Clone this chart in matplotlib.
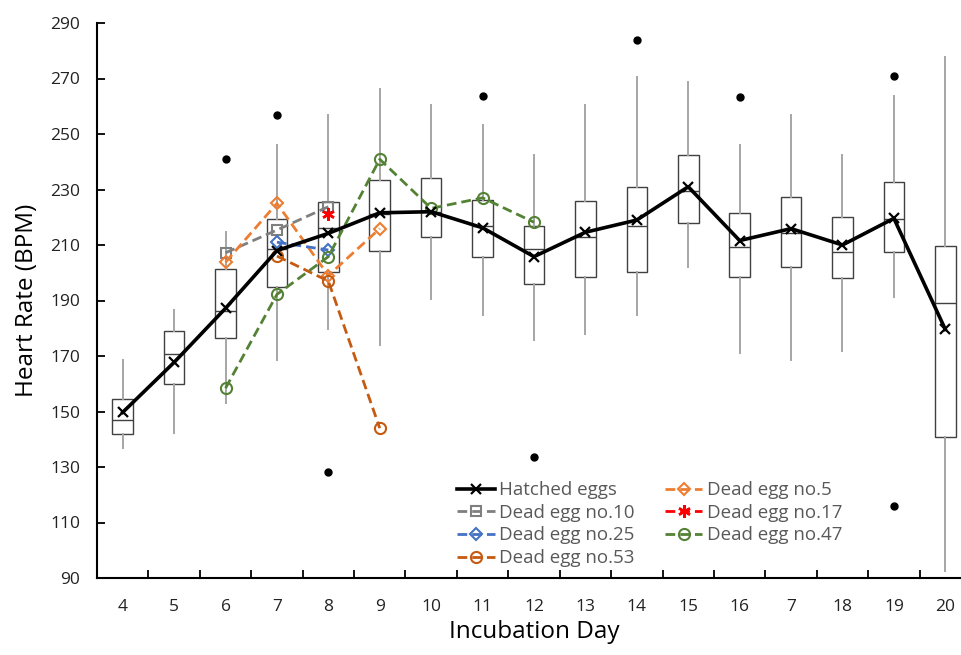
"""Heart rate boxplots by incubation day with dead-egg traces"""
import matplotlib
matplotlib.use('Agg')
import matplotlib.pyplot as plt

plt.rcParams['font.family'] = ['Open Sans', 'DejaVu Sans']

# Incubation days (the original labels day 17 as "7")
day_labels = ['4', '5', '6', '7', '8', '9', '10', '11', '12', '13',
              '14', '15', '16', '7', '18', '19', '20']

# Hatched eggs box statistics (BPM)
whis_lo = [136.7, 142.1, 153.0, 168.6, 179.6, 174.0, 190.4, 184.8, 175.8,
           177.8, 184.8, 202.2, 171.0, 168.6, 171.9, 191.4, 92.6]
q1 = [142.0, 159.9, 176.4, 194.9, 200.4, 207.8, 212.8, 205.7, 195.8,
      198.6, 200.4, 218.0, 198.6, 202.0, 198.2, 207.5, 140.7]
median = [146.9, 170.6, 186.2, 208.7, 216.0, 221.0, 222.0, 216.8, 208.7,
          213.0, 216.8, 229.6, 209.4, 214.2, 207.6, 219.4, 189.2]
q3 = [154.4, 179.0, 201.2, 219.4, 225.5, 233.3, 234.0, 226.2, 216.8,
      225.9, 231.0, 242.3, 221.4, 227.3, 220.2, 232.6, 209.7]
whis_hi = [168.6, 186.6, 214.6, 246.0, 256.8, 266.1, 260.6, 253.1, 242.3,
           260.6, 270.7, 268.8, 245.9, 256.7, 242.3, 263.8, 277.7]
mean_hatched = [149.7, 167.7, 187.2, 208.0, 214.2, 221.6, 222.0, 216.2, 205.8,
                214.6, 219.0, 231.0, 211.6, 215.9, 210.0, 219.6, 179.6]
outliers = [[], [], [240.9], [256.8], [128.1], [], [], [263.7], [133.7],
            [], [283.9], [], [263.3], [], [], [270.8, 116.0], []]

# Dead eggs (day index positions 1..17 -> day 4..20)
dead10_days = [3, 4, 5]
dead10 = [207.2, 215.4, 223.8]
dead5_days = [3, 4, 5, 6]
dead5 = [203.8, 225.0, 199.0, 215.9]
dead17_days = [5]
dead17 = [221.1]
dead25_days = [4, 5]
dead25 = [211.0, 208.2]
dead47_days = [3, 4, 5, 6, 7, 8, 9]
dead47 = [158.4, 192.2, 205.8, 240.9, 223.2, 227.0, 218.2]
dead53_days = [4, 5, 6]
dead53 = [206.0, 197.0, 144.0]

W, H = 962, 655
fig = plt.figure(figsize=(W / 100, H / 100), dpi=100)
ax = fig.add_axes([97 / W, (H - 578) / H, 874 / W, 555 / H])

positions = list(range(1, len(day_labels) + 1))
stats = []
for i in range(len(day_labels)):
    stats.append(dict(whislo=whis_lo[i], q1=q1[i], med=median[i], q3=q3[i],
                      whishi=whis_hi[i], fliers=outliers[i]))

ax.bxp(stats, positions=positions, widths=0.4, patch_artist=True,
       showcaps=False,
       boxprops=dict(facecolor='white', edgecolor='#404040', linewidth=1.0),
       medianprops=dict(color='#404040', linewidth=1.0),
       whiskerprops=dict(color='#a6a6a6', linewidth=1.4),
       flierprops=dict(marker='o', markerfacecolor='black',
                       markeredgecolor='black', markersize=5))

dash = (3.5, 1.8)
h_hatch, = ax.plot(positions, mean_hatched, color='black', lw=2.6, marker='x',
                   markersize=7, mew=1.6, zorder=6, label='Hatched eggs')
h10, = ax.plot(dead10_days, dead10, color='#7f7f7f', lw=2, dashes=dash,
               marker='s', markersize=7, mfc='none', mew=1.5, zorder=5,
               label='Dead egg no.10')
h5, = ax.plot(dead5_days, dead5, color='#ed7d31', lw=2, dashes=dash,
              marker='D', markersize=6.5, mfc='none', mew=1.5, zorder=5,
              label='Dead egg no.5')
h25, = ax.plot(dead25_days, dead25, color='#4472c4', lw=2, dashes=dash,
               marker='D', markersize=6.5, mfc='none', mew=1.5, zorder=5,
               label='Dead egg no.25')
h53, = ax.plot(dead53_days, dead53, color='#c55a11', lw=2, dashes=dash,
               marker='o', markersize=8, mfc='none', mew=1.5, zorder=5,
               label='Dead egg no.53')
h47, = ax.plot(dead47_days, dead47, color='#548235', lw=2, dashes=dash,
               marker='o', markersize=8, mfc='none', mew=1.5, zorder=5,
               label='Dead egg no.47')
h17, = ax.plot(dead17_days, dead17, color='red', lw=2, dashes=dash,
               marker=(6, 2, 0), markersize=9, mew=1.8, zorder=7,
               label='Dead egg no.17')

# Axes formatting
ax.set_xlim(0.5, len(day_labels) + 0.5)
ax.set_ylim(90, 290)
ax.set_yticks(range(90, 291, 20))
ax.set_xticks(positions)
ax.set_xticklabels(day_labels)
ax.set_xticks([p + 0.5 for p in positions], minor=True)
ax.tick_params(axis='x', which='major', length=0, pad=15, labelsize=12.5,
               labelcolor='#222222')
ax.tick_params(axis='x', which='minor', direction='in', length=6, width=1.3)
ax.tick_params(axis='y', direction='in', length=6, width=1.3, pad=12,
               labelsize=12.5, labelcolor='#222222')
for s in ['top', 'right']:
    ax.spines[s].set_visible(False)
for s in ['left', 'bottom']:
    ax.spines[s].set_linewidth(1.5)

ax.set_xlabel('Incubation Day', fontsize=17.5, labelpad=4)
ax.set_ylabel('Heart Rate (BPM)', fontsize=17.5, labelpad=8)

handles = [h_hatch, h10, h25, h53, h5, h17, h47]
leg = ax.legend(handles=handles, ncol=2, frameon=False, fontsize=13.5,
                loc='upper left', bbox_to_anchor=(444 / W, 1 - 468 / H),
                bbox_transform=fig.transFigure, handlelength=2.0,
                handletextpad=0.25, labelspacing=0.25, columnspacing=1.6,
                borderpad=0.2)
for t in leg.get_texts():
    t.set_color('#595959')

plt.savefig('out.png', dpi=100)
plt.close()
